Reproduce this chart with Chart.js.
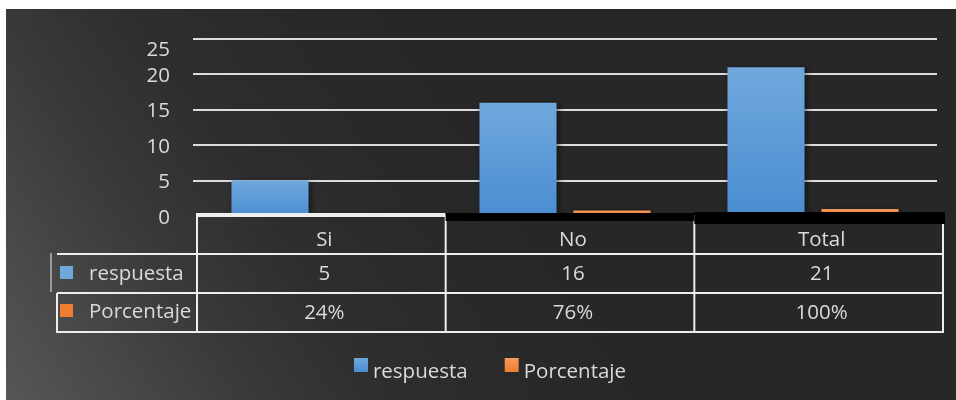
<!DOCTYPE html>
<html>
<head>
<meta charset="utf-8">
<script src="https://cdn.jsdelivr.net/npm/chart.js@4"></script>
<style>
  html, body { margin: 0; padding: 0; background: #fff; }
  #wrap { width: 956px; height: 400px; }
</style>
</head>
<body>
<div id="wrap"><canvas id="chart"></canvas></div>
<script>
// data
const categories = ['Si', 'No', 'Total'];
const respuesta = [5, 16, 21];
const porcentaje = [0.24, 0.76, 1.00];
const yTicks = [0, 5, 10, 15, 20, 25];
const seriesNames = ['respuesta', 'Porcentaje'];

const FONT = '20.5px "Open Sans", sans-serif';
const TEXT = '#dadada';
const LINE = '#eeeeee';
const BLUE = ['#70a8dd', '#4a8dd1'];
const ORANGE = ['#f59a5a', '#ed7d31'];

// vertical gradient per bar
function barFill(cols) {
  return (ctx) => {
    const chart = ctx.chart;
    const y = chart.scales.y;
    if (!chart.chartArea || !y || ctx.type !== 'data') return cols[1];
    const top = y.getPixelForValue(ctx.raw);
    const bottom = y.getPixelForValue(0);
    const g = chart.ctx.createLinearGradient(0, top, 0, bottom + 0.01);
    g.addColorStop(0, cols[0]);
    g.addColorStop(1, cols[1]);
    return g;
  };
}

function line(c, x1, y1, x2, y2) {
  c.beginPath();
  c.moveTo(x1, y1);
  c.lineTo(x2, y2);
  c.stroke();
}

// background, y labels, data table and legend
const tablePlugin = {
  id: 'tablePlugin',
  beforeDraw(chart) {
    const c = chart.ctx;
    c.save();
    c.fillStyle = '#fff';
    c.fillRect(0, 0, chart.width, chart.height);
    const g = c.createLinearGradient(0, 400, 450, 100);
    g.addColorStop(0, '#575757');
    g.addColorStop(0.2, '#484848');
    g.addColorStop(0.4, '#393939');
    g.addColorStop(0.6, '#2e2e2e');
    g.addColorStop(0.85, '#292929');
    g.addColorStop(1, '#272727');
    c.fillStyle = g;
    c.fillRect(6, 9, chart.width - 6, chart.height - 9);
    c.restore();
  },
  beforeDatasetsDraw(chart) {
    const c = chart.ctx;
    c.save();
    c.shadowColor = 'rgba(0,0,0,0.5)';
    c.shadowBlur = 6;
    c.shadowOffsetX = 2;
    c.shadowOffsetY = 1;
  },
  afterDatasetsDraw(chart) {
    const c = chart.ctx;
    c.restore();
    const a = chart.chartArea;
    const ys = chart.scales.y;
    c.save();

    // y tick labels
    c.font = FONT;
    c.fillStyle = TEXT;
    c.textAlign = 'right';
    c.textBaseline = 'alphabetic';
    yTicks.forEach(v => {
      const py = Math.max(ys.getPixelForValue(v), a.top + 9);
      c.fillText(String(v), 170, py + 7.5);
    });

    // table grid
    const n = categories.length;
    const L = a.left + 4, R = a.right + 6, w = (R - L) / n;
    c.strokeStyle = LINE;
    c.lineWidth = 2;
    [254, 293, 332].forEach(y => line(c, 57, y, R, y));
    for (let i = 0; i <= n; i++) {
      line(c, L + i * w, i === n ? 224 : 215, L + i * w, 333);
    }
    line(c, 57, 293, 57, 333);
    c.strokeStyle = '#9a9a9a';
    line(c, 51, 253, 51, 292);
    c.fillStyle = LINE;
    c.fillRect(L - 1, 213, w + 1, 4);
    c.fillStyle = '#000';
    c.fillRect(L + w, 213, w, 8);
    c.fillRect(L + 2 * w, 212, w + 2, 12);

    // table text
    c.font = FONT;
    c.fillStyle = TEXT;
    c.textAlign = 'center';
    categories.forEach((cat, i) => {
      const cx = L + (i + 0.5) * w + 3;
      c.fillText(cat, cx, 246);
      c.fillText(String(respuesta[i]), cx, 280);
      c.fillText(Math.round(porcentaje[i] * 100) + '%', cx, 319);
    });

    // row labels
    const ds = chart.data.datasets;
    const rowBase = [280, 318];
    ds.forEach((d, k) => {
      c.fillStyle = k === 0 ? BLUE[0] : ORANGE[1];
      c.fillRect(60, rowBase[k] - 14, 13, 13);
      c.fillStyle = TEXT;
      c.textAlign = 'left';
      c.fillText(d.label, 89, rowBase[k]);
    });

    // legend
    const box = 14, gap = 5, itemGap = 37;
    const widths = ds.map(d => box + gap + c.measureText(d.label).width);
    const total = widths.reduce((s, v) => s + v, 0) + itemGap * (ds.length - 1);
    let x = 490 - total / 2;
    ds.forEach((d, k) => {
      const g = c.createLinearGradient(0, 358, 0, 372);
      const cols = k === 0 ? BLUE : ORANGE;
      g.addColorStop(0, cols[0]);
      g.addColorStop(1, cols[1]);
      c.fillStyle = g;
      c.fillRect(x, 358, box, box);
      c.fillStyle = TEXT;
      c.textAlign = 'left';
      c.fillText(d.label, x + box + gap, 378);
      x += widths[k] + itemGap;
    });
    c.restore();
  }
};

new Chart(document.getElementById('chart'), {
  type: 'bar',
  data: {
    labels: categories,
    datasets: [
      {
        label: seriesNames[0],
        data: respuesta,
        backgroundColor: barFill(BLUE),
        categoryPercentage: 0.758,
        barPercentage: 0.82
      },
      {
        label: seriesNames[1],
        data: porcentaje,
        backgroundColor: barFill(ORANGE),
        categoryPercentage: 0.758,
        barPercentage: 0.82
      }
    ]
  },
  options: {
    responsive: true,
    maintainAspectRatio: false,
    animation: false,
    layout: { padding: { top: 39, right: 19, bottom: 184, left: 0 } },
    plugins: {
      legend: { display: false },
      tooltip: { enabled: false }
    },
    scales: {
      x: { display: false },
      y: {
        min: yTicks[0],
        max: yTicks[yTicks.length - 1],
        ticks: { stepSize: yTicks[1] - yTicks[0], display: false },
        grid: {
          color: (ctx) => ctx.tick && ctx.tick.value === 0 ? 'rgba(0,0,0,0)' : '#dcdcdc',
          lineWidth: 2,
          drawTicks: false
        },
        border: { display: false },
        afterFit(s) { s.width = 193; }
      }
    }
  },
  plugins: [tablePlugin]
});
</script>
</body>
</html>
